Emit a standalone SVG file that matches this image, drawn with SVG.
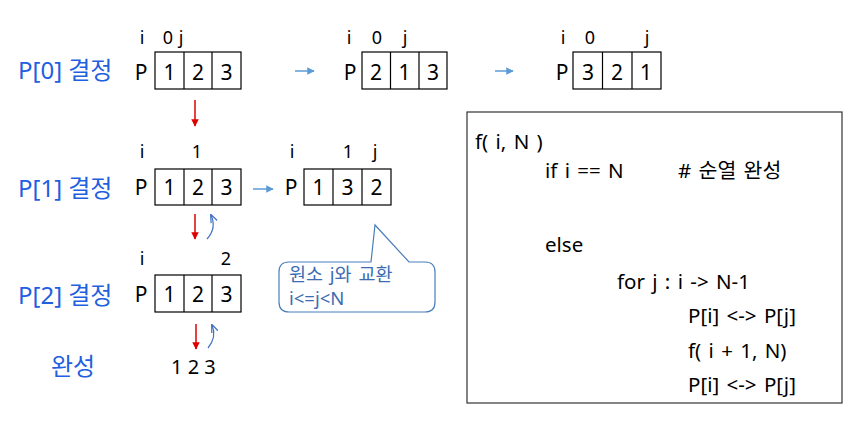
<svg xmlns="http://www.w3.org/2000/svg" width="857" height="422" viewBox="0 0 857 422">
<style>
text{font-family:"Noto Sans","Noto Sans CJK KR",sans-serif;fill:#000}
.lbl{font-size:24px;fill:#1f5fe0}
.cell{font-size:21px;text-anchor:middle}
.idx{font-size:18px;text-anchor:middle}
.code{font-size:20.5px;word-spacing:2px}
.co{font-size:18.5px;fill:#3d6cb3;word-spacing:2px}
.box{fill:#fff;stroke:#000;stroke-width:1.2}
.red{stroke:#e00000;stroke-width:1.5;fill:none}
.blue{stroke:#5b9bd5;stroke-width:1.5;fill:none}
.curve{stroke:#4472c4;stroke-width:1.2;fill:none}
</style>
<defs>
<marker id="ar" viewBox="0 0 10 10" refX="9" refY="5" markerWidth="5" markerHeight="5" orient="auto"><path d="M0,0L10,5L0,10z" fill="#e00000"/></marker>
<marker id="ab" viewBox="0 0 10 10" refX="9" refY="5" markerWidth="5" markerHeight="5" orient="auto"><path d="M0,0L10,5L0,10z" fill="#5b9bd5"/></marker>
<marker id="ac" viewBox="0 0 10 10" refX="9" refY="5" markerWidth="7" markerHeight="7" orient="auto"><path d="M0,1L10,5L0,9" fill="none" stroke="#4472c4" stroke-width="1.5"/></marker>
</defs>

<g id="labels">
<text class="lbl" x="18" y="79">P[0] 결정</text>
<text class="lbl" x="18" y="197">P[1] 결정</text>
<text class="lbl" x="18" y="304">P[2] 결정</text>
<text class="lbl" x="51" y="375">완성</text>
</g>

<g id="row1a">
<text class="idx" x="142" y="44">i</text><text class="idx" x="168" y="44">0</text><text class="idx" x="181" y="44">j</text>
<text class="cell" x="141" y="80">P</text>
<rect class="box" x="155" y="52" width="86" height="37"/>
<line class="box" x1="184" y1="52" x2="184" y2="89"/><line class="box" x1="212" y1="52" x2="212" y2="89"/>
<text class="cell" x="169.5" y="80">1</text><text class="cell" x="198" y="80">2</text><text class="cell" x="226.5" y="80">3</text>
</g>
<g id="row1b">
<text class="idx" x="349" y="44">i</text><text class="idx" x="377" y="44">0</text><text class="idx" x="405" y="44">j</text>
<text class="cell" x="350" y="80">P</text>
<rect class="box" x="362" y="52" width="85" height="37"/>
<line class="box" x1="390.5" y1="52" x2="390.5" y2="89"/><line class="box" x1="419" y1="52" x2="419" y2="89"/>
<text class="cell" x="376" y="80">2</text><text class="cell" x="404.5" y="80">1</text><text class="cell" x="433" y="80">3</text>
</g>
<g id="row1c">
<text class="idx" x="563" y="44">i</text><text class="idx" x="590" y="44">0</text><text class="idx" x="647" y="44">j</text>
<text class="cell" x="562" y="80">P</text>
<rect class="box" x="573" y="52" width="88" height="37"/>
<line class="box" x1="602.5" y1="52" x2="602.5" y2="89"/><line class="box" x1="632" y1="52" x2="632" y2="89"/>
<text class="cell" x="588" y="80">3</text><text class="cell" x="617" y="80">2</text><text class="cell" x="646" y="80">1</text>
</g>

<g id="row2a">
<text class="idx" x="142" y="158">i</text><text class="idx" x="197" y="158">1</text>
<text class="cell" x="141" y="195">P</text>
<rect class="box" x="155" y="169" width="86" height="36"/>
<line class="box" x1="184" y1="169" x2="184" y2="205"/><line class="box" x1="212" y1="169" x2="212" y2="205"/>
<text class="cell" x="169.5" y="195">1</text><text class="cell" x="198" y="195">2</text><text class="cell" x="226.5" y="195">3</text>
</g>
<g id="row2b">
<text class="idx" x="292" y="158">i</text><text class="idx" x="348" y="158">1</text><text class="idx" x="375" y="158">j</text>
<text class="cell" x="291" y="195">P</text>
<rect class="box" x="304" y="169" width="87" height="36"/>
<line class="box" x1="333" y1="169" x2="333" y2="205"/><line class="box" x1="362" y1="169" x2="362" y2="205"/>
<text class="cell" x="318.5" y="195">1</text><text class="cell" x="347.5" y="195">3</text><text class="cell" x="376.5" y="195">2</text>
</g>

<g id="row3">
<text class="idx" x="142" y="265">i</text><text class="idx" x="226" y="265">2</text>
<text class="cell" x="141" y="302">P</text>
<rect class="box" x="155" y="275" width="86" height="37"/>
<line class="box" x1="184" y1="275" x2="184" y2="312"/><line class="box" x1="212" y1="275" x2="212" y2="312"/>
<text class="cell" x="169.5" y="302">1</text><text class="cell" x="198" y="302">2</text><text class="cell" x="226.5" y="302">3</text>
</g>

<g id="result">
<text x="171" y="374" style="font-size:20px">1 2 3</text>
</g>

<g id="callout">
<path d="M289,262 L371,262 L375,225 L409,262 L425,262 Q435,262 435,272 L435,302 Q435,312 425,312 L289,312 Q279,312 279,302 L279,272 Q279,262 289,262 Z" fill="#fff" stroke="#4a7ebb" stroke-width="1.2"/>
<text class="co" x="289" y="281">원소 j와 교환</text>
<text class="co" x="289" y="305">i&lt;=j&lt;N</text>
</g>

<g id="code">
<rect x="467" y="112" width="375" height="291" fill="#fff" stroke="#333" stroke-width="1.2"/>
<text class="code" x="475" y="149">f( i, N )</text>
<text class="code" x="545" y="178">if i == N</text>
<text class="code" x="678" y="178"># 순열 완성</text>
<text class="code" x="545" y="252">else</text>
<text class="code" x="617" y="289">for j : i -&gt; N-1</text>
<text class="code" x="688" y="323">P[i] &lt;-&gt; P[j]</text>
<text class="code" x="688" y="358">f( i + 1, N)</text>
<text class="code" x="688" y="392">P[i] &lt;-&gt; P[j]</text>
</g>

<g id="connectors">
<line class="red" x1="195" y1="100" x2="195" y2="126" marker-end="url(#ar)"/>
<line class="red" x1="195" y1="214" x2="195" y2="239" marker-end="url(#ar)"/>
<line class="red" x1="196" y1="324" x2="196" y2="349" marker-end="url(#ar)"/>
<line class="blue" x1="295" y1="71" x2="314" y2="71" marker-end="url(#ab)"/>
<line class="blue" x1="495" y1="71" x2="513" y2="71" marker-end="url(#ab)"/>
<line class="blue" x1="253" y1="189" x2="273" y2="189" marker-end="url(#ab)"/>
<path class="curve" d="M207,239 Q217,228 211,215" marker-end="url(#ac)"/>
<path class="curve" d="M208,348 Q217,337 212,325" marker-end="url(#ac)"/>
</g>
</svg>
